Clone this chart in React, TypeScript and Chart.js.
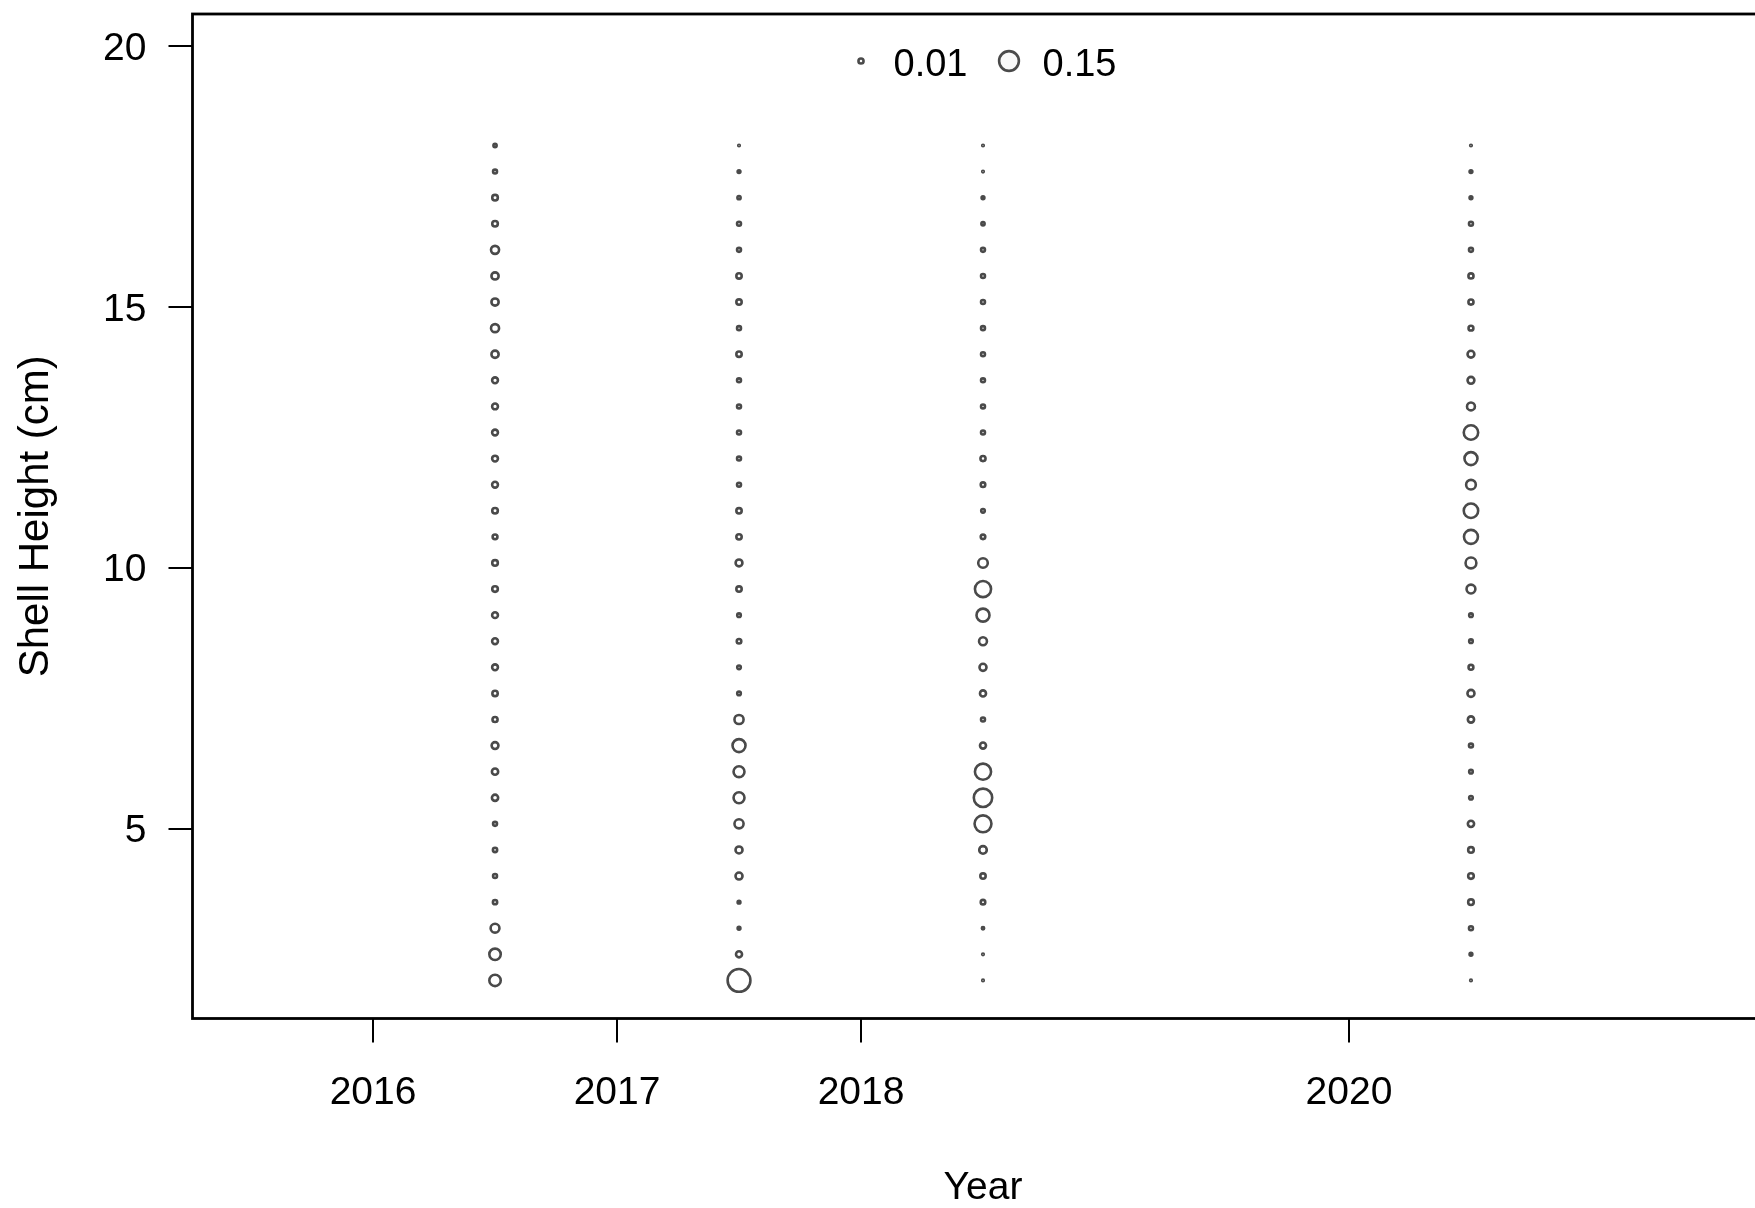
import React, { useEffect, useRef } from "react";
import { Chart, registerables } from "chart.js";

Chart.register(...registerables);

// ---- data ----
const years: number[] = [2016.5, 2017.5, 2018.5, 2020.5];
const xTickYears: number[] = [2016, 2017, 2018, 2020];
const yTickValues: number[] = [5, 10, 15, 20];
const heights: number[] = [
  2.1, 2.6, 3.1, 3.6, 4.1, 4.6, 5.1, 5.6, 6.1, 6.6, 7.1, 7.6, 8.1, 8.6, 9.1, 9.6,
  10.1, 10.6, 11.1, 11.6, 12.1, 12.6, 13.1, 13.6, 14.1, 14.6, 15.1, 15.6, 16.1,
  16.6, 17.1, 17.6, 18.1,
];
// proportion of animals in each height bin (bottom to top)
const prop2016: number[] = [
  0.05, 0.05, 0.03, 0.007, 0.006, 0.007, 0.006, 0.015, 0.015, 0.018, 0.01, 0.011,
  0.013, 0.013, 0.013, 0.012, 0.012, 0.009, 0.012, 0.013, 0.013, 0.013, 0.013,
  0.013, 0.02, 0.025, 0.02, 0.02, 0.025, 0.012, 0.012, 0.006, 0.004,
];
const prop2017: number[] = [
  0.2, 0.014, 0.003, 0.003, 0.019, 0.019, 0.032, 0.046, 0.046, 0.065, 0.032,
  0.005, 0.005, 0.008, 0.005, 0.011, 0.018, 0.011, 0.011, 0.006, 0.006, 0.006,
  0.006, 0.006, 0.011, 0.006, 0.011, 0.011, 0.006, 0.006, 0.004, 0.003, 0.001,
];
const prop2018: number[] = [
  0.001, 0.001, 0.002, 0.008, 0.011, 0.022, 0.11, 0.13, 0.1, 0.014, 0.006, 0.014,
  0.019, 0.024, 0.065, 0.1, 0.035, 0.008, 0.005, 0.008, 0.01, 0.006, 0.006,
  0.006, 0.006, 0.006, 0.006, 0.006, 0.006, 0.004, 0.003, 0.001, 0.001,
];
const prop2020: number[] = [
  0.001, 0.003, 0.006, 0.012, 0.012, 0.012, 0.015, 0.005, 0.005, 0.006, 0.015,
  0.019, 0.009, 0.005, 0.005, 0.03, 0.045, 0.075, 0.08, 0.036, 0.065, 0.08,
  0.024, 0.018, 0.018, 0.009, 0.01, 0.01, 0.006, 0.006, 0.003, 0.003, 0.001,
];
const proportions: number[][] = [prop2016, prop2017, prop2018, prop2020];
const legendValues: number[] = [0.01, 0.15];

// ---- styling ----
const FONT = "'Liberation Sans', Arial, Helvetica, sans-serif";
const SIZE_K = 25.5; // radius = SIZE_K * sqrt(proportion)
const STROKE = "#4a4a4a";
const STROKE_W = 2.6;
const radiusOf = (p: number) => SIZE_K * Math.sqrt(p);

const CANVAS_W = 1790;
const CANVAS_H = 1208;

const boxAndLegend = {
  id: "boxAndLegend",
  afterDraw(chart: any) {
    const { ctx, chartArea } = chart;
    const { left, top, right, bottom } = chartArea;
    ctx.save();
    ctx.strokeStyle = "#000";
    ctx.lineWidth = 2.8;
    ctx.strokeRect(left, top, right - left, bottom - top);

    // legend
    const cy = top + 47;
    const items = [
      { cx: left + 668.5, tx: left + 701 },
      { cx: left + 816.5, tx: left + 850 },
    ];
    ctx.font = `38px ${FONT}`;
    ctx.textBaseline = "alphabetic";
    ctx.textAlign = "left";
    legendValues.forEach((v, i) => {
      const it = items[i];
      ctx.beginPath();
      ctx.arc(it.cx, cy, radiusOf(v), 0, Math.PI * 2);
      ctx.fillStyle = "rgba(248,248,248,1)";
      ctx.fill();
      ctx.lineWidth = STROKE_W;
      ctx.strokeStyle = STROKE;
      ctx.stroke();
      ctx.fillStyle = "#000";
      ctx.fillText(v.toFixed(2), it.tx, cy + 14.5);
    });
    ctx.restore();
  },
};

export default function App() {
  const ref = useRef<HTMLCanvasElement | null>(null);

  useEffect(() => {
    if (!ref.current) return;
    const datasets = years.map((yr, i) => ({
      label: String(yr),
      data: heights.map((h, j) => ({ x: yr, y: h, r: radiusOf(proportions[i][j]) })),
      borderColor: STROKE,
      backgroundColor: "rgba(255,255,255,0)",
      borderWidth: STROKE_W,
      hoverBorderWidth: STROKE_W,
    }));

    const chart = new Chart(ref.current, {
      type: "bubble",
      data: { datasets },
      plugins: [boxAndLegend],
      options: {
        animation: false,
        responsive: false,
        devicePixelRatio: 1,
        events: [],
        layout: { padding: { left: 0, top: 13.4, right: CANVAS_W - 1773.5, bottom: 0 } },
        plugins: { legend: { display: false }, tooltip: { enabled: false } },
        scales: {
          x: {
            type: "linear",
            min: 2015.26,
            max: 2021.74,
            afterBuildTicks: (s: any) => {
              s.ticks = xTickYears.map((v) => ({ value: v }));
            },
            afterFit: (s: any) => {
              s.height = 189.5;
              s.paddingLeft = 0;
              s.paddingRight = 0;
            },
            ticks: {
              autoSkip: false,
              maxRotation: 0,
              color: "#000",
              padding: 27,
              font: { family: FONT, size: 39 },
              callback: (v: any) => String(v),
            },
            grid: {
              drawOnChartArea: false,
              drawTicks: true,
              tickLength: 24,
              color: "#000",
              lineWidth: 2,
            },
            border: { display: false },
            title: {
              display: true,
              text: "Year",
              color: "#000",
              font: { family: FONT, size: 39, lineHeight: 1 },
              padding: { top: 0, bottom: 0 },
            },
          },
          y: {
            type: "linear",
            min: 1.37,
            max: 20.62,
            afterBuildTicks: (s: any) => {
              s.ticks = yTickValues.map((v) => ({ value: v }));
            },
            afterFit: (s: any) => {
              s.width = 192.5;
              s.paddingTop = 0;
              s.paddingBottom = 0;
            },
            ticks: {
              autoSkip: false,
              color: "#000",
              padding: 22,
              labelOffset: 2.5,
              font: { family: FONT, size: 39 },
              callback: (v: any) => String(v),
            },
            grid: {
              drawOnChartArea: false,
              drawTicks: true,
              tickLength: 24,
              color: "#000",
              lineWidth: 2,
            },
            border: { display: false },
            title: {
              display: true,
              text: "Shell Height (cm)",
              color: "#000",
              font: { family: FONT, size: 42 },
              padding: { top: 11.5, bottom: 0 },
            },
          },
        },
      },
    } as any);
    return () => chart.destroy();
  }, []);

  return (
    <div
      style={{
        position: "fixed",
        left: 0,
        top: 0,
        width: 1755,
        height: 1208,
        overflow: "hidden",
        background: "#fff",
      }}
    >
      <canvas
        ref={ref}
        width={CANVAS_W}
        height={CANVAS_H}
        style={{ display: "block", width: CANVAS_W, height: CANVAS_H }}
      />
    </div>
  );
}
